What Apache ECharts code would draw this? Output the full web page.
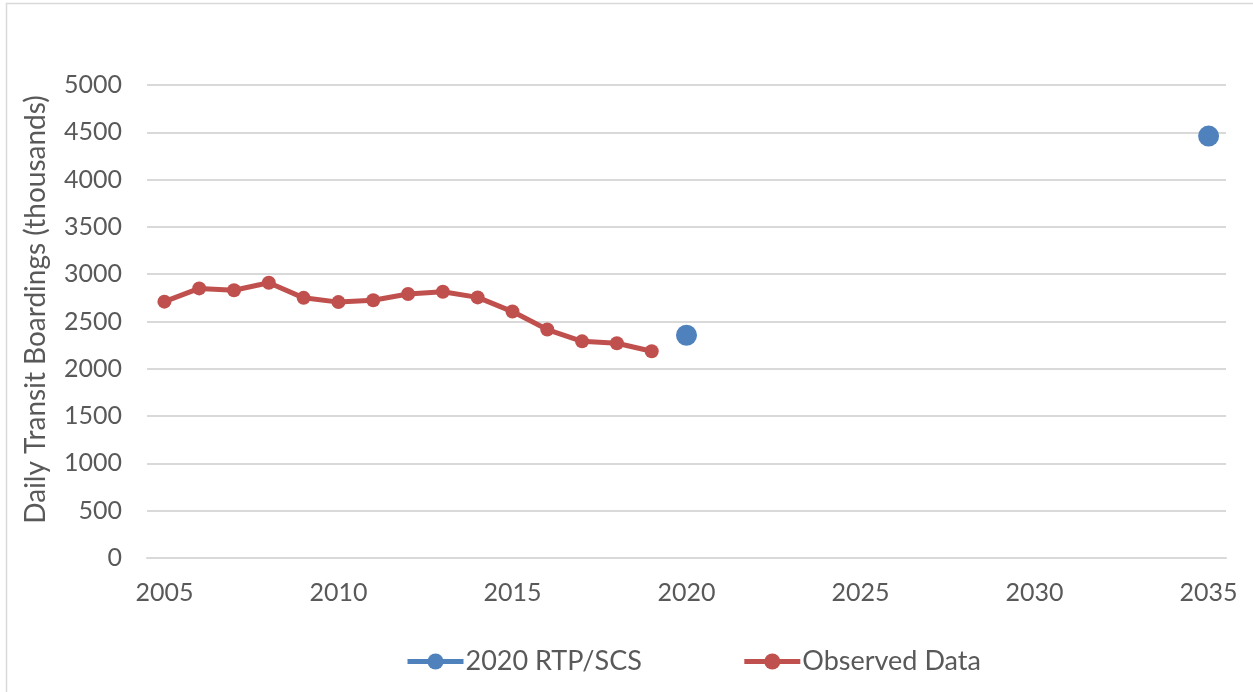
<!DOCTYPE html>
<html><head><meta charset="utf-8">
<script src="https://cdn.jsdelivr.net/npm/echarts@6/dist/echarts.min.js"></script>
<style>html,body{margin:0;padding:0;background:#fff}#c{width:1253px;height:692px}</style>
</head><body><div id="c"></div>
<script>
const years = [];
for (let y = 2005; y <= 2035; y++) years.push(String(y));
const observedYears = ['2005','2006','2007','2008','2009','2010','2011','2012','2013','2014','2015','2016','2017','2018','2019'];
const observedValues = [2710, 2850, 2830, 2910, 2750, 2705, 2725, 2790, 2815, 2755, 2605, 2415, 2290, 2270, 2185];
const rtpYears = ['2020', '2035'];
const rtpValues = [2355, 4460];
const yTicks = {min: 0, max: 5000, interval: 500};

function toSeries(ys, vs) {
  const m = {};
  ys.forEach((y, i) => m[y] = vs[i]);
  return years.map(y => (y in m ? m[y] : null));
}

const font = 'Lato, "Open Sans", sans-serif';
const txt = '#595959';
const chart = echarts.init(document.getElementById('c'));
chart.setOption({
  animation: false,
  graphic: [{type: 'rect', shape: {x: 6.5, y: 3.5, width: 1260, height: 720}, style: {fill: 'none', stroke: '#d9d9d9', lineWidth: 1.5}, silent: true}],
  grid: {left: 147, right: 27, top: 85, bottom: 134, containLabel: false},
  legend: {
    bottom: 12, left: 400, itemGap: 100, itemWidth: 56, itemHeight: 20,
    lineStyle: {width: 5},
    textStyle: {fontFamily: font, fontSize: 27, color: txt, padding: [2, 0, 0, -3]},
    data: ['2020 RTP/SCS', 'Observed Data']
  },
  xAxis: {
    type: 'category', data: years, boundaryGap: true,
    axisLine: {lineStyle: {color: '#d9d9d9', width: 2}},
    axisTick: {show: false},
    axisLabel: {interval: 4, fontFamily: font, fontSize: 25, color: txt, margin: 22}
  },
  yAxis: {
    type: 'value', min: yTicks.min, max: yTicks.max, interval: yTicks.interval,
    name: 'Daily Transit Boardings (thousands)', nameLocation: 'middle', nameGap: 97,
    nameTextStyle: {fontFamily: font, fontSize: 28, color: txt, padding: [0, 0, 0, 24]},
    axisLine: {show: false}, axisTick: {show: false},
    axisLabel: {fontFamily: font, fontSize: 25, color: txt, margin: 25, formatter: v => String(v)},
    splitLine: {lineStyle: {color: '#d9d9d9', width: 2}}
  },
  series: [
    {name: '2020 RTP/SCS', type: 'line', data: toSeries(rtpYears, rtpValues), connectNulls: false,
     symbol: 'circle', symbolSize: 21, color: '#4F81BD', itemStyle: {color: '#4F81BD'},
     lineStyle: {color: '#4F81BD', width: 5}},
    {name: 'Observed Data', type: 'line', data: toSeries(observedYears, observedValues),
     symbol: 'circle', symbolSize: 14, color: '#C0504D', itemStyle: {color: '#C0504D'},
     lineStyle: {color: '#C0504D', width: 5}}
  ]
});
</script></body></html>
